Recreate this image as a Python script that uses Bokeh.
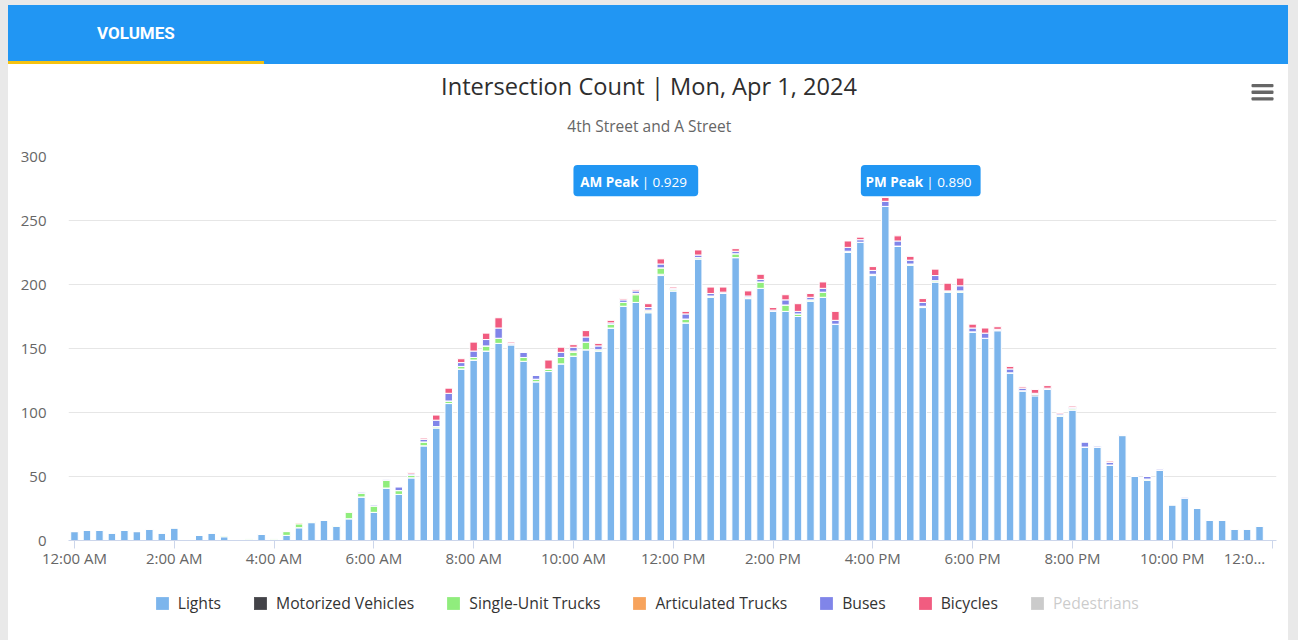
import numpy as np
from bokeh.plotting import figure
from bokeh.models import (ColumnDataSource, FixedTicker, Range1d, Label,
                          BoxAnnotation, Legend, LegendItem, Div)
from bokeh.layouts import column
from bokeh.embed import file_html
from bokeh.resources import INLINE

# ---------------- data (15-minute intervals, 12:00 AM .. 11:45 PM) ----------------
interval_minutes = list(range(0, 24 * 60, 15))

lights = [7, 8, 8, 6, 8, 7, 9, 6,
          10, 1, 4, 6, 3, 0, 1, 5,
          1, 4, 10, 14, 16, 11, 17, 34,
          22, 41, 36, 49, 74, 88, 107, 134,
          141, 148, 154, 153, 140, 124, 132, 138,
          144, 149, 148, 166, 183, 186, 178, 207,
          195, 170, 220, 190, 193, 221, 189, 197,
          179, 179, 175, 187, 190, 169, 225, 233,
          207, 261, 230, 215, 182, 202, 194, 194,
          163, 158, 164, 131, 117, 113, 118, 97,
          102, 73, 73, 59, 82, 50, 47, 55,
          28, 33, 25, 16, 16, 9, 9, 11]
motorized = [0, 0, 0, 0, 0, 0, 0, 0,
             0, 0, 0, 0, 0, 0, 0, 0,
             0, 0, 0, 0, 0, 0, 0, 0,
             0, 0, 0, 0, 0, 0, 0, 0,
             0, 0, 0, 0, 0, 0, 0, 0,
             0, 0, 0, 0, 0, 0, 0, 1,
             0, 0, 0, 0, 0, 0, 0, 0,
             0, 0, 0, 0, 0, 0, 0, 0,
             0, 0, 0, 0, 0, 0, 0, 0,
             0, 0, 0, 0, 0, 1, 0, 0,
             0, 0, 0, 0, 0, 0, 0, 0,
             0, 0, 0, 0, 0, 0, 0, 0]
single_unit = [0, 0, 0, 0, 0, 0, 0, 0,
               0, 0, 0, 0, 1, 0, 1, 0,
               1, 3, 3, 1, 0, 1, 5, 3,
               5, 6, 3, 2, 3, 1, 2, 2,
               2, 4, 4, 0, 3, 2, 2, 5,
               3, 6, 1, 3, 3, 6, 1, 5,
               1, 3, 1, 1, 0, 3, 1, 5,
               0, 5, 2, 1, 4, 0, 1, 0,
               1, 0, 0, 1, 1, 1, 1, 1,
               0, 0, 0, 0, 0, 0, 0, 1,
               1, 0, 0, 0, 0, 0, 1, 0,
               0, 0, 0, 0, 0, 0, 0, 0]
articulated = [0, 0, 0, 0, 0, 0, 0, 0,
               0, 0, 0, 0, 0, 0, 0, 0,
               0, 0, 1, 0, 0, 0, 1, 0,
               0, 0, 0, 0, 0, 0, 0, 0,
               0, 0, 0, 0, 0, 0, 0, 0,
               1, 0, 0, 0, 0, 1, 1, 0,
               0, 0, 0, 0, 0, 0, 0, 0,
               0, 0, 0, 0, 0, 0, 0, 0,
               0, 0, 0, 0, 0, 0, 0, 0,
               0, 0, 0, 0, 0, 0, 0, 0,
               0, 0, 0, 0, 0, 0, 0, 0,
               0, 0, 0, 0, 0, 0, 0, 0]
buses = [0, 0, 0, 0, 0, 0, 0, 0,
         0, 0, 0, 0, 0, 0, 0, 0,
         0, 0, 0, 0, 0, 0, 0, 1,
         1, 1, 3, 1, 2, 5, 6, 3,
         5, 5, 8, 1, 4, 3, 0, 4,
         3, 4, 3, 1, 2, 2, 2, 3,
         1, 4, 2, 2, 1, 2, 1, 2,
         1, 4, 2, 2, 3, 3, 3, 2,
         3, 4, 4, 3, 3, 4, 0, 4,
         3, 4, 1, 3, 2, 1, 1, 1,
         1, 4, 1, 2, 1, 1, 2, 1,
         0, 1, 0, 0, 0, 0, 0, 0]
bicycles = [0, 0, 0, 0, 0, 0, 0, 0,
            0, 0, 0, 0, 0, 0, 0, 0,
            0, 0, 0, 0, 0, 0, 0, 0,
            0, 0, 0, 1, 1, 4, 4, 3,
            7, 5, 8, 1, 0, 0, 7, 4,
            2, 5, 2, 2, 1, 1, 3, 4,
            1, 2, 4, 5, 4, 2, 4, 4,
            2, 4, 6, 3, 5, 7, 5, 2,
            3, 3, 4, 3, 3, 5, 6, 6,
            3, 4, 2, 2, 1, 3, 2, 1,
            1, 0, 0, 1, 0, 0, 0, 0,
            0, 0, 0, 0, 0, 0, 0, 0]

series_keys = ["lights", "motorized", "single_unit", "articulated", "buses", "bicycles"]
series_names = ["Lights", "Motorized Vehicles", "Single-Unit Trucks",
                "Articulated Trucks", "Buses", "Bicycles"]
series_colors = ["#7cb5ec", "#434348", "#90ed7d", "#f7a35c", "#8085e9", "#f15c80"]
hidden_series_name = "Pedestrians"

tick_hours = [0, 2, 4, 6, 8, 10, 12, 14, 16, 18, 20, 22, 24]
tick_labels = ["12:00 AM", "2:00 AM", "4:00 AM", "6:00 AM", "8:00 AM", "10:00 AM",
               "12:00 PM", "2:00 PM", "4:00 PM", "6:00 PM", "8:00 PM", "10:00 PM", "12:0…"]
y_ticks = [0, 50, 100, 150, 200, 250, 300]

chart_title = "Intersection Count | Mon, Apr 1, 2024"
chart_subtitle = "4th Street and A Street"
peak_names = ["AM Peak", "PM Peak"]
peak_factors = ["0.929", "0.890"]

FONT = "Open Sans"
W = 1280
FRAME_L, FRAME_R = 68, 1276   # page x of the plotting frame
CHILD_MARGIN = (0, 10, 0, 8)
WHITE = {"background-color": "white"}


def blank_figure(height):
    f = figure(width=W, height=height, x_range=Range1d(FRAME_L, FRAME_R), y_range=Range1d(0, height),
               output_backend="svg", toolbar_location=None, x_axis_type=None, y_axis_type=None,
               min_border_left=FRAME_L - 8, min_border_right=8 + W - FRAME_R,
               min_border_top=0, min_border_bottom=0, margin=CHILD_MARGIN, styles=WHITE)
    f.outline_line_color = None
    f.grid.visible = False
    return f


# ---------------- title strip (page y 64..146) ----------------
TH = 82
tf = blank_figure(TH)
tf.add_layout(Label(x=648.5, y=61, text=chart_title, text_align="center",
                    text_baseline="alphabetic", text_font=FONT, text_font_size="23.6px",
                    text_color="#2e2e2e"))
tf.add_layout(Label(x=648.8, y=20.2, text=chart_subtitle, text_align="center",
                    text_baseline="alphabetic", text_font=FONT, text_font_size="15.5px",
                    text_color="#666666"))
for top, bottom in [(62.6, 59.3), (55.9, 52.6), (49.3, 45.9)]:
    tf.add_layout(BoxAnnotation(left=1251, right=1273, top=top, bottom=bottom,
                                fill_color="#666666", fill_alpha=1, line_color=None,
                                border_radius=1))

# ---------------- main chart ----------------
hours = np.array(interval_minutes) / 60.0
src = ColumnDataSource(dict(hour=hours, lights=lights, motorized=motorized,
                            single_unit=single_unit, articulated=articulated,
                            buses=buses, bicycles=bicycles))

p = figure(width=W, height=434, x_range=Range1d(-0.12, 24.09), y_range=Range1d(0, 300),
           output_backend="svg", toolbar_location=None,
           min_border_left=FRAME_L - 8, min_border_right=8 + W - FRAME_R,
           min_border_top=10, min_border_bottom=40, margin=CHILD_MARGIN, styles=WHITE)
p.outline_line_color = None

renderers = p.vbar_stack(series_keys, x="hour", width=0.15, source=src,
                         fill_color=series_colors, line_color="white", line_width=1)

p.xaxis.ticker = FixedTicker(ticks=tick_hours)
overrides = {h: lab for h, lab in zip(tick_hours, tick_labels)}
# last label is truncated and right-aligned at its tick (pad with no-break spaces)
overrides[tick_hours[-1]] = tick_labels[-1] + "\u00a0" * 6
p.xaxis.major_label_overrides = overrides
p.xaxis.axis_line_color = "#ccd6eb"
p.xaxis.major_tick_line_color = "#ccd6eb"
p.xaxis.major_tick_out = 8
p.xaxis.major_tick_in = 0
p.xaxis.minor_tick_line_color = None
p.xaxis.major_label_standoff = -1
p.xaxis.major_label_text_font = FONT
p.xaxis.major_label_text_font_size = "15px"
p.xaxis.major_label_text_color = "#666666"

p.yaxis.ticker = FixedTicker(ticks=y_ticks)
p.yaxis.axis_line_color = None
p.yaxis.major_tick_line_color = None
p.yaxis.minor_tick_line_color = None
p.yaxis.major_label_standoff = 16
p.yaxis.major_label_text_font = FONT
p.yaxis.major_label_text_font_size = "15px"
p.yaxis.major_label_text_color = "#666666"

p.xgrid.grid_line_color = None
p.ygrid.ticker = FixedTicker(ticks=y_ticks)
p.ygrid.grid_line_color = "#e6e6e6"

# peak badges
peak_boxes = [(10.0, 12.5), (15.76, 18.16)]
peak_splits = [11.327, 17.03]
for (l, r), sx, name, fac in zip(peak_boxes, peak_splits, peak_names, peak_factors):
    p.add_layout(BoxAnnotation(left=l, right=r, top=293.3, bottom=269.0,
                               fill_color="#2196f3", fill_alpha=1, line_color=None,
                               border_radius=4))
    p.add_layout(Label(x=sx, y=280.0, text=name, text_align="right", text_baseline="alphabetic",
                       x_offset=-1, text_font=FONT, text_font_style="bold",
                       text_font_size="13.5px", text_color="white"))
    p.add_layout(Label(x=sx, y=280.0, text="| " + fac, text_align="left", text_baseline="alphabetic",
                       x_offset=2, text_font=FONT, text_font_size="13.5px", text_color="white"))

# ---------------- legend strip (page y 580..640) ----------------
LH = 60
lf = blank_figure(LH)
items = []
for name, color in zip(series_names, series_colors):
    # legend proxies, placed outside the visible range
    r = lf.vbar(x=[0], top=[-10], bottom=[-20], width=1, fill_color=color, line_color=None)
    items.append(LegendItem(label=name, renderers=[r]))
r_ped = lf.vbar(x=[0], top=[-10], bottom=[-20], width=1, fill_color="#333333", line_color=None,
                visible=False)
items.append(LegendItem(label=hidden_series_name, renderers=[r_ped]))
legend = Legend(items=items, orientation="horizontal", nrows=1, location=(85.7, 26.5),
                click_policy="hide", inactive_fill_color="white", inactive_fill_alpha=0.75,
                glyph_width=16, glyph_height=16, label_standoff=8, spacing=31,
                padding=6, margin=0, border_line_color=None, background_fill_alpha=0,
                label_text_font=FONT, label_text_font_size="15.7px", label_text_color="#333333")
lf.add_layout(legend, "center")

# ---------------- header tab bar ----------------
header_html = (
    '<div style="position:relative;width:1280px;height:59px;background:#2196f3;overflow:hidden;">'
    '<div style="position:absolute;left:89px;top:18px;font-family:Roboto;font-weight:bold;'
    'font-size:17px;line-height:20px;color:#ffffff;">VOLUMES</div>'
    '<div style="position:absolute;left:0px;top:56px;width:256px;height:3px;background:#f5c211;"></div>'
    '</div>'
)
header = Div(text=header_html, width=W, height=59, margin=(5, 10, 0, 8))

layout = column(header, tf, p, lf, spacing=0, styles={"background-color": "#e9e9e9"})
open("out.html", "w").write(file_html(layout, INLINE))
